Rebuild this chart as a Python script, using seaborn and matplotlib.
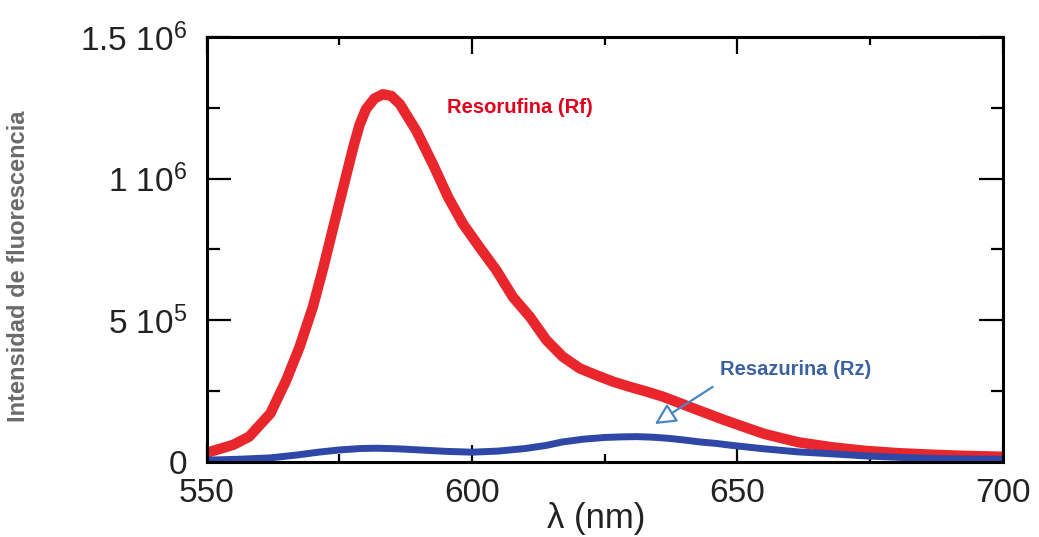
"""
Fluorescence emission spectra: resorufin (Rf) vs resazurin (Rz)
"""
import numpy as np
import pandas as pd
import matplotlib
matplotlib.use("Agg")
import matplotlib.pyplot as plt
from matplotlib.ticker import FixedLocator
import seaborn as sns

# Resorufina (Rf) emission (intensity in units of 1e6)
rf_nm = [550, 555, 558, 562, 565, 567.5, 570, 572, 574, 576, 577.6, 578.8, 580,
         581.6, 583.2, 584.8, 586.4, 589.5, 592.6, 595.5, 598.3, 601.4, 604.6,
         607.7, 610.9, 614, 617.1, 620.3, 623.4, 626.6, 629.7, 632.9, 636, 639.2,
         642.4, 647.5, 655, 661.5, 668, 674, 680, 687, 693, 700]
rf_int = [0.032, 0.060, 0.089, 0.171, 0.289, 0.406, 0.547, 0.688, 0.840, 0.990,
          1.110, 1.190, 1.245, 1.283, 1.298, 1.292, 1.263, 1.169, 1.052, 0.934,
          0.840, 0.758, 0.676, 0.582, 0.512, 0.430, 0.371, 0.330, 0.306, 0.283,
          0.265, 0.248, 0.230, 0.207, 0.184, 0.148, 0.099, 0.069, 0.051, 0.039,
          0.031, 0.025, 0.021, 0.018]

# Resazurina (Rz) emission (intensity in units of 1e6)
rz_nm = [550, 556, 562, 567, 571, 575, 579, 582, 586, 590, 595, 600, 605, 610,
         614, 617, 621, 625, 628, 631, 634, 637, 640, 643, 646, 649, 655, 661.5,
         668, 674, 680, 687, 693, 700]
rz_int = [0.006, 0.009, 0.014, 0.024, 0.034, 0.042, 0.047, 0.048, 0.046, 0.042,
          0.037, 0.034, 0.038, 0.047, 0.058, 0.070, 0.080, 0.086, 0.088, 0.089,
          0.087, 0.083, 0.077, 0.070, 0.065, 0.058, 0.046, 0.035, 0.028, 0.021,
          0.016, 0.012, 0.010, 0.009]

y_ticks = [0, 5e5, 1e6, 1.5e6]
y_ticklabels = ["0", "5 10$^5$", "1 10$^6$", "1.5 10$^6$"]
x_ticks = [550, 600, 650, 700]

df_rf = pd.DataFrame({"nm": rf_nm, "I": np.array(rf_int) * 1e6})
df_rz = pd.DataFrame({"nm": rz_nm, "I": np.array(rz_int) * 1e6})

sns.set_style("ticks")
plt.rcParams["font.family"] = ["Liberation Sans", "DejaVu Sans"]
plt.rcParams["mathtext.fontset"] = "custom"
plt.rcParams["mathtext.rm"] = "Liberation Sans"
plt.rcParams["mathtext.default"] = "regular"

red = "#E8262B"
blue = "#2F47A6"

fig = plt.figure(figsize=(10.39, 5.37), dpi=100)
ax = fig.add_axes([0.199, 0.140, 0.766, 0.791])

sns.lineplot(data=df_rf, x="nm", y="I", color=red, lw=7.5, ax=ax,
             solid_capstyle="round", solid_joinstyle="round")
sns.lineplot(data=df_rz, x="nm", y="I", color=blue, lw=5, ax=ax,
             solid_capstyle="round", solid_joinstyle="round")

ax.set_xlim(550, 700)
ax.set_ylim(0, 1.5e6)

ax.xaxis.set_major_locator(FixedLocator(x_ticks))
ax.xaxis.set_minor_locator(FixedLocator([575, 625, 675]))
ax.yaxis.set_major_locator(FixedLocator(y_ticks))
ax.yaxis.set_minor_locator(FixedLocator([2.5e5, 7.5e5, 1.25e6]))
ax.set_yticklabels(y_ticklabels)

ax.tick_params(axis="both", which="both", direction="in", top=True, right=True,
               width=1.6, color="black", labelsize=24, labelcolor="#222222")
ax.tick_params(axis="x", which="major", length=12, pad=12)
ax.tick_params(axis="x", which="minor", length=6)
ax.tick_params(axis="y", which="major", length=17, pad=14)
ax.tick_params(axis="y", which="minor", length=9)
for s in ax.spines.values():
    s.set_linewidth(2.2)
    s.set_color("black")

ax.set_xlabel("")
fig.text(0.574, 0.035, "λ (nm)", fontsize=25, color="#222222",
         ha="center", va="center")
ax.set_ylabel("Intensidad de fluorescencia", fontsize=17, fontweight="bold",
              color="#6A6A6A")
ax.yaxis.set_label_coords(-0.222, 0.46)

ax.text(595.2, 1.25e6, "Resorufina (Rf)", color="#E2001A", fontsize=14.5,
        fontweight="bold", ha="left", va="center")
ax.text(646.8, 3.27e5, "Resazurina (Rz)", color="#3A62A2", fontsize=14.5,
        fontweight="bold", ha="left", va="center")
ax.annotate("", xy=(634.0, 1.28e5), xytext=(645.8, 2.7e5),
            arrowprops=dict(arrowstyle="-|>", ec="#4A86C8", fc="white",
                            lw=1.6, mutation_scale=32))

fig.savefig("out.png", dpi=100)
